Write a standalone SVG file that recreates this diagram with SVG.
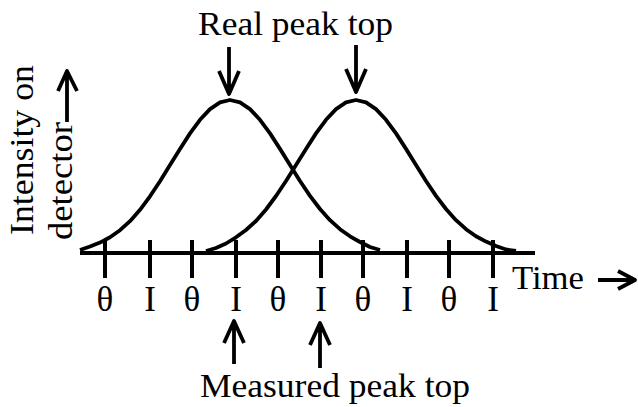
<svg xmlns="http://www.w3.org/2000/svg" width="638" height="407" viewBox="0 0 638 407" font-family="Liberation Serif, DejaVu Serif, Times New Roman, serif">
<style>
.t{font-family:"Liberation Serif",serif;font-size:34px;fill:#000}
.ln{fill:none;stroke:#000;stroke-width:3.8;stroke-linecap:butt;stroke-linejoin:round}
.tk{stroke:#000;stroke-width:4}
.lab{text-anchor:middle;font-size:35px}
</style>
<rect width="638" height="407" fill="#fff"/>
<g id="connectors">
  <path class="ln" d="M229 47V94M219 71L229 94L239 71"/>
  <path class="ln" d="M356 45V92M346 69L356 92L366 69"/>
  <path class="ln" d="M234 364V321M224 343L234 321L244 343"/>
  <path class="ln" d="M320 368V323M310 345L320 323L330 345"/>
  <path class="ln" stroke-width="4.5" d="M598 280H635M618 271L635 280L618 289"/>
  <path class="ln" d="M67 122V71M58 91L67 71L77 91"/>
</g>
<g id="axis">
  <line x1="80" y1="253" x2="535" y2="253" class="tk"/>
  <path class="tk" d="M105 240V278M150 240V278M192 240V278M236 240V278M278 240V278M321 240V278M363 240V278M407 240V278M449 240V278M493 240V278"/>
</g>
<g id="curves">
  <path class="ln" d="M80 250L90 246.5L100 242.6L110 237.3L120 230.2L130 221.2L140 209.8L150 196.3L160 181.2L170 165L180 148.9L190 133.4L200 119.8L210 109.1L220 102.4L230 100L240 102.4L250 109.1L260 119.8L270 133.4L280 148.9L290 165L300 181L310 195.9L320 209L330 220.2L340 229.2L350 236.3L360 242L370 247L380 250"/>
  <path class="ln" d="M206 251L216 248L226 243.5L236 237.3L246 230L256 221L266 209.5L276 196L286 181L296 165L306 148.9L316 133.4L326 119.8L336 109.1L346 102.4L356 100L366 102.4L376 109.1L386 119.8L396 133.4L406 148.9L416 165L426 181L436 195.9L446 209L456 220.2L466 229.2L476 236.3L486 241.6L496 246L506 249.5L516 251"/>
</g>
<g id="tick-labels">
  <text x="105" y="311" class="t lab">θ</text>
  <text x="150" y="311" class="t lab">I</text>
  <text x="192" y="311" class="t lab">θ</text>
  <text x="236" y="311" class="t lab">I</text>
  <text x="278" y="311" class="t lab">θ</text>
  <text x="321" y="311" class="t lab">I</text>
  <text x="363" y="311" class="t lab">θ</text>
  <text x="407" y="311" class="t lab">I</text>
  <text x="449" y="311" class="t lab">θ</text>
  <text x="493" y="311" class="t lab">I</text>
</g>
<g id="real-label"><text class="t" x="198" y="35" textLength="195" lengthAdjust="spacingAndGlyphs">Real peak top</text></g>
<g id="measured-label"><text class="t" x="200" y="397" textLength="270" lengthAdjust="spacingAndGlyphs">Measured peak top</text></g>
<g id="time-label"><text class="t" x="512" y="289" textLength="72" lengthAdjust="spacingAndGlyphs">Time</text></g>
<g id="y-label">
  <text class="t" transform="translate(33,235) rotate(-90)" textLength="170" lengthAdjust="spacingAndGlyphs">Intensity on</text>
  <text class="t" transform="translate(72,240) rotate(-90)" textLength="118" lengthAdjust="spacingAndGlyphs">detector</text>
</g>
</svg>
